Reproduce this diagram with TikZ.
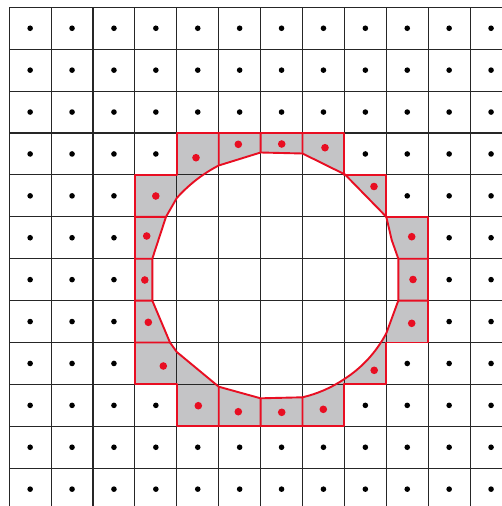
\documentclass[tikz,border=0pt]{standalone}
\usepackage{tikz}
\definecolor{cellred}{RGB}{232,14,34}
\definecolor{cellgray}{RGB}{196,196,198}
\tikzset{
  gridline/.style={draw=black!85, line width=1.15pt},
  redline/.style={draw=cellred, line width=1.9pt, line join=round},
  blackdot/.style={fill=black},
  reddot/.style={fill=cellred},
}
\begin{document}
\begin{tikzpicture}[x=1pt,y=-1pt]
\useasboundingbox (0,0) rectangle (502,506);
\clip (0,0) rectangle (502,506);
\fill[white] (0,0) rectangle (502,506);
% grid points
\foreach \c in {0,...,12}{\foreach \r in {0,...,12}{
  \coordinate (g-\c-\r) at ({9.2+41.9*\c},{7.3+41.9*\r});}}
% boundary polygon points
\coordinate (pA) at (260.6,152.5);
\coordinate (pB) at (302.5,153.5);
\coordinate (pC) at (345,174.5);
\coordinate (pD) at (386.3,216.8);
\coordinate (pE) at (391.7,240);
\coordinate (pF) at (398.3,258.7);
\coordinate (pG) at (398.3,300.6);
\coordinate (pH) at (386.3,333.3);
\coordinate (pI) at (344.4,379);
\coordinate (pJ) at (302.5,397.3);
\coordinate (pK) at (260.6,398.3);
\coordinate (pL) at (218.7,386.7);
\coordinate (pM) at (176.8,352);
\coordinate (pN) at (170,342.5);
\coordinate (pO) at (152.3,300.6);
\coordinate (pP) at (152.3,258.7);
\coordinate (pR) at (166,216.8);
\coordinate (pS) at (176.8,198);
\coordinate (pT) at (218.7,165.5);
\def\boundary{(pA) -- (pB) -- (pC) -- (pD) -- (pE) -- (pF) -- (pG) -- (pH)
  .. controls (376.3,352) and (362.4,367.4) .. (pI)
  .. controls (331.6,387.6) and (317.7,393.7) .. (pJ)
  -- (pK) -- (pL) -- (pM) -- (pN) -- (pO) -- (pP) -- (pR) -- (pS)
  .. controls (188.9,184.6) and (202.8,173.7) .. (pT) -- cycle}
\def\stair{(g-4-3) -- (g-8-3) -- (g-8-4) -- (g-9-4) -- (g-9-5) -- (g-10-5)
  -- (g-10-8) -- (g-9-8) -- (g-9-9) -- (g-8-9) -- (g-8-10) -- (g-4-10)
  -- (g-4-9) -- (g-3-9) -- (g-3-4) -- (g-4-4) -- cycle}
% gray band
\fill[cellgray, even odd rule] \stair \boundary;
% grid
\foreach \c in {0,...,11}{
  \draw[gridline] (g-\c-0) -- ({9.2+41.9*\c},506);}
\foreach \r in {0,...,11}{
  \draw[gridline] (g-0-\r) -- (502,{7.3+41.9*\r});}
% red outlines
\draw[redline] \stair;
\draw[redline] \boundary;
\draw[redline] (g-5-3) -- (pT);
\draw[redline] (g-6-3) -- (pA);
\draw[redline] (g-7-3) -- (pB);
\draw[redline] (pF) -- (g-10-6);
\draw[redline] (pG) -- (g-10-7);
\draw[redline] (pL) -- (g-5-10);
\draw[redline] (pK) -- (g-6-10);
\draw[redline] (pJ) -- (g-7-10);
\draw[redline] (g-3-5) -- (pR);
\draw[redline] (g-3-6) -- (pP);
\draw[redline] (g-3-7) -- (pO);
\draw[redline] (g-3-8) -- (pN);
% black dots
\foreach \c in {0,...,11}{\foreach \r in {0,...,11}{
  \pgfmathtruncatemacro\inner{(\c>2)&&(\c<10)&&(\r>2)&&(\r<10)}
  \ifnum\inner=0
    \fill[blackdot] ({9.2+41.9*(\c+0.5)},{7.3+41.9*(\r+0.5)}) circle[radius=2.8];
  \fi}}
\foreach \c/\r in {3/3,8/3,9/3,9/4,3/9,8/9,9/9,9/8}{
  \fill[blackdot] ({9.2+41.9*(\c+0.5)},{7.3+41.9*(\r+0.5)}) circle[radius=2.8];}
% red dots
\foreach \x/\y in {196/157.7,238.3/144.3,281.7/144,325/147.7,374/186.5,
  411.7/236.7,413/279.5,411.7/323.3,374.2/370.3,323.3/409.3,281.7/412.3,
  238.3/411.7,198.3/405.7,163.3/366,148.3/322.3,144.8/280,146.7/236,155.8/196}{
  \fill[reddot] (\x,\y) circle[radius=3.8];}
\end{tikzpicture}
\end{document}
